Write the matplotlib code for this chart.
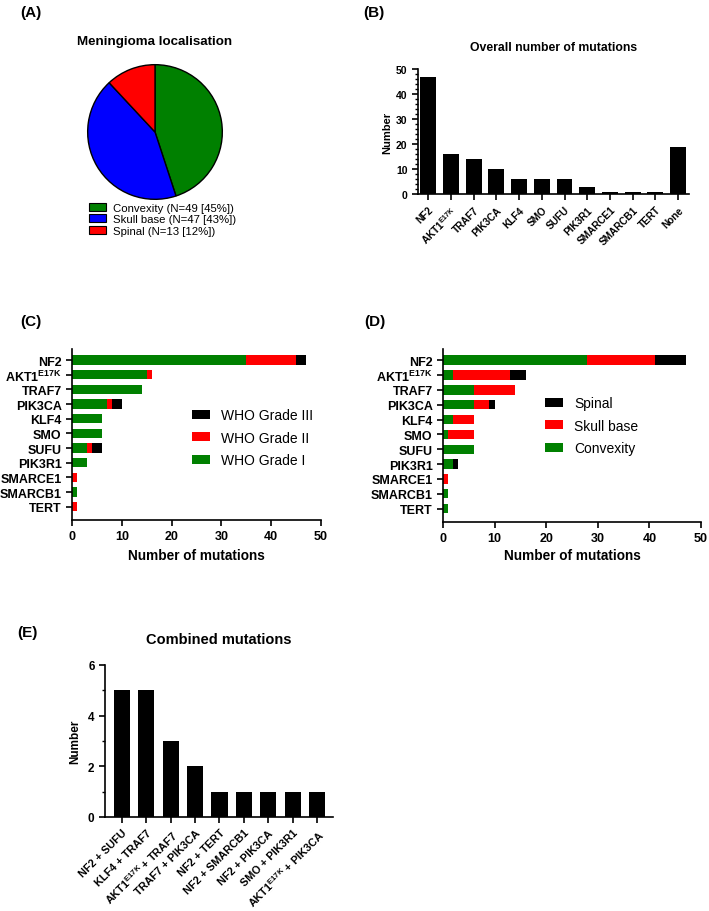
import numpy as np
import matplotlib
matplotlib.use("Agg")
import matplotlib.pyplot as plt
from matplotlib.patches import Patch
from matplotlib.ticker import MultipleLocator

plt.rcParams['font.family'] = ['Liberation Sans', 'DejaVu Sans']
plt.rcParams['mathtext.fontset'] = 'custom'
plt.rcParams['mathtext.rm'] = 'Liberation Sans'
plt.rcParams['axes.linewidth'] = 1.2
plt.rcParams['xtick.major.width'] = 1.2
plt.rcParams['ytick.major.width'] = 1.2
plt.rcParams['xtick.minor.width'] = 1.0
plt.rcParams['ytick.minor.width'] = 1.0

GREEN = '#008000'
RED = '#ff0000'
BLUE = '#0000ff'

AKT = 'AKT1$^{\\mathregular{E17K}}$'

# (A) localisation
loc_labels = ['Convexity (N=49 [45%])', 'Skull base (N=47 [43%])', 'Spinal (N=13 [12%])']
loc_counts = [49, 47, 13]
loc_colors = [GREEN, BLUE, RED]

# (B) overall mutations
genes_b = ['NF2', AKT, 'TRAF7', 'PIK3CA', 'KLF4', 'SMO', 'SUFU', 'PIK3R1',
           'SMARCE1', 'SMARCB1', 'TERT', 'None']
counts_b = [47, 16, 14, 10, 6, 6, 6, 3, 1, 1, 1, 19]

# (C)/(D) per gene
genes = ['NF2', AKT, 'TRAF7', 'PIK3CA', 'KLF4', 'SMO', 'SUFU', 'PIK3R1',
         'SMARCE1', 'SMARCB1', 'TERT']
grade1 = [35, 15, 14, 7, 6, 6, 3, 3, 0, 1, 0]
grade2 = [10, 1, 0, 1, 0, 0, 1, 0, 1, 0, 1]
grade3 = [2, 0, 0, 2, 0, 0, 2, 0, 0, 0, 0]

convexity = [28, 2, 6, 6, 2, 1, 6, 2, 0, 1, 1]
skull = [13, 11, 8, 3, 4, 5, 0, 0, 1, 0, 0]
spinal = [6, 3, 0, 1, 0, 0, 0, 1, 0, 0, 0]

# (E) combined
combos = ['NF2 + SUFU', 'KLF4 + TRAF7', 'AKT1$^{\\mathregular{E17K}}$ + TRAF7',
          'TRAF7 + PIK3CA', 'NF2 + TERT', 'NF2 + SMARCB1', 'NF2 + PIK3CA',
          'SMO + PIK3R1', 'AKT1$^{\\mathregular{E17K}}$ + PIK3CA']
combo_counts = [5, 5, 3, 2, 1, 1, 1, 1, 1]

W, H = 709, 912
fig = plt.figure(figsize=(W / 100, H / 100), dpi=100)


def ax_px(l, t, r, b):
    return fig.add_axes([l / W, 1 - b / H, (r - l) / W, (b - t) / H])


def style(ax):
    for s in ['top', 'right']:
        ax.spines[s].set_visible(False)
    ax.tick_params(direction='out', length=4)


def panel_label(x, y, s):
    fig.text(x / W, 1 - y / H, s, fontsize=11, fontweight='bold', ha='left', va='center')


# ---- (A)
panel_label(20, 13, '(A)')
axA = ax_px(87, 65, 223, 201)
axA.pie(loc_counts, colors=loc_colors, startangle=90, counterclock=False,
        wedgeprops=dict(edgecolor='black', linewidth=1.0))
axA.set_xlim(-1.01, 1.01)
axA.set_ylim(-1.01, 1.01)
fig.text(155 / W, 1 - 42 / H, 'Meningioma localisation', fontsize=9.6,
         fontweight='bold', ha='center', va='center')
handlesA = [Patch(facecolor=c, edgecolor='black', linewidth=0.8) for c in loc_colors]
fig.legend(handlesA, loc_labels, loc='upper left', bbox_to_anchor=(89 / W, 1 - 204 / H),
           frameon=False, fontsize=8.2, handlelength=1.5, handleheight=0.7,
           labelspacing=0.12, borderpad=0, handletextpad=0.6, borderaxespad=0)

# ---- (B)
panel_label(363, 13, '(B)')
axB = ax_px(418, 70, 689, 195)
xb = np.arange(len(genes_b))
axB.bar(xb, counts_b, width=0.7, color='black')
axB.set_xlim(-0.45, len(genes_b) - 0.52)
axB.set_ylim(0, 50)
axB.yaxis.set_major_locator(MultipleLocator(10))
axB.yaxis.set_minor_locator(MultipleLocator(2))
axB.set_xticks(xb)
axB.set_xticklabels(genes_b, rotation=45, ha='right', rotation_mode='anchor',
                    fontsize=7.2, fontweight='bold')
style(axB)
axB.tick_params(axis='y', which='minor', length=2.5)
for lab in axB.get_yticklabels():
    lab.set_fontweight('bold')
    lab.set_fontsize(7.5)
axB.set_ylabel('Number', fontsize=8, fontweight='bold', labelpad=3)
axB.set_title('Overall number of mutations', fontsize=8.8, fontweight='bold', pad=14)


def stacked_h(ax, series, colors, names, legend_xy, xpad):
    y = np.arange(len(genes))
    left = np.zeros(len(genes))
    for vals, c in zip(series, colors):
        ax.barh(y, vals, left=left, height=0.63, color=c)
        left += np.array(vals)
    ax.set_ylim(len(genes) - 1 + 0.9, -0.75)
    ax.set_xlim(0, 50)
    ax.xaxis.set_major_locator(MultipleLocator(10))
    ax.set_yticks(y)
    ax.set_yticklabels(genes, fontsize=9, fontweight='bold')
    style(ax)
    for lab in ax.get_xticklabels():
        lab.set_fontweight('bold')
        lab.set_fontsize(9)
    ax.set_xlabel('Number of mutations', fontsize=9.8, fontweight='bold', labelpad=xpad)
    handles = [Patch(facecolor=c) for c in colors[::-1]]
    ax.legend(handles, names[::-1], loc='upper left', bbox_to_anchor=legend_xy,
              bbox_transform=fig.transFigure, frameon=False, fontsize=10,
              handlelength=1.3, handleheight=0.6, labelspacing=0.62,
              borderpad=0, handletextpad=0.8, borderaxespad=0)


# ---- (C)
panel_label(20, 322, '(C)')
axC = ax_px(72, 350, 321, 521)
stacked_h(axC, [grade1, grade2, grade3], [GREEN, RED, 'black'],
          ['WHO Grade I', 'WHO Grade II', 'WHO Grade III'], (192 / W, 1 - 409 / H), 4)

# ---- (D)
panel_label(364, 322, '(D)')
axD = ax_px(443, 350, 701, 523)
stacked_h(axD, [convexity, skull, spinal], [GREEN, RED, 'black'],
          ['Convexity', 'Skull base', 'Spinal'], (545 / W, 1 - 397 / H), 2.5)

# ---- (E)
panel_label(17, 633, '(E)')
axE = ax_px(105, 666, 333, 818)
xe = np.arange(len(combos))
axE.bar(xe, combo_counts, width=0.66, color='black')
axE.set_xlim(-0.7, len(combos) - 1 + 0.66)
axE.set_ylim(0, 6)
axE.yaxis.set_major_locator(MultipleLocator(2))
axE.yaxis.set_minor_locator(MultipleLocator(1))
axE.set_xticks(xe)
axE.set_xticklabels(combos, rotation=45, ha='right', rotation_mode='anchor',
                    fontsize=7.8, fontweight='bold')
style(axE)
axE.tick_params(axis='y', which='minor', length=2.5)
for lab in axE.get_yticklabels():
    lab.set_fontweight('bold')
    lab.set_fontsize(8.5)
axE.set_ylabel('Number', fontsize=8.5, fontweight='bold', labelpad=5)
axE.set_title('Combined mutations', fontsize=10.5, fontweight='bold', pad=16)

fig.savefig('out.png', dpi=100)
